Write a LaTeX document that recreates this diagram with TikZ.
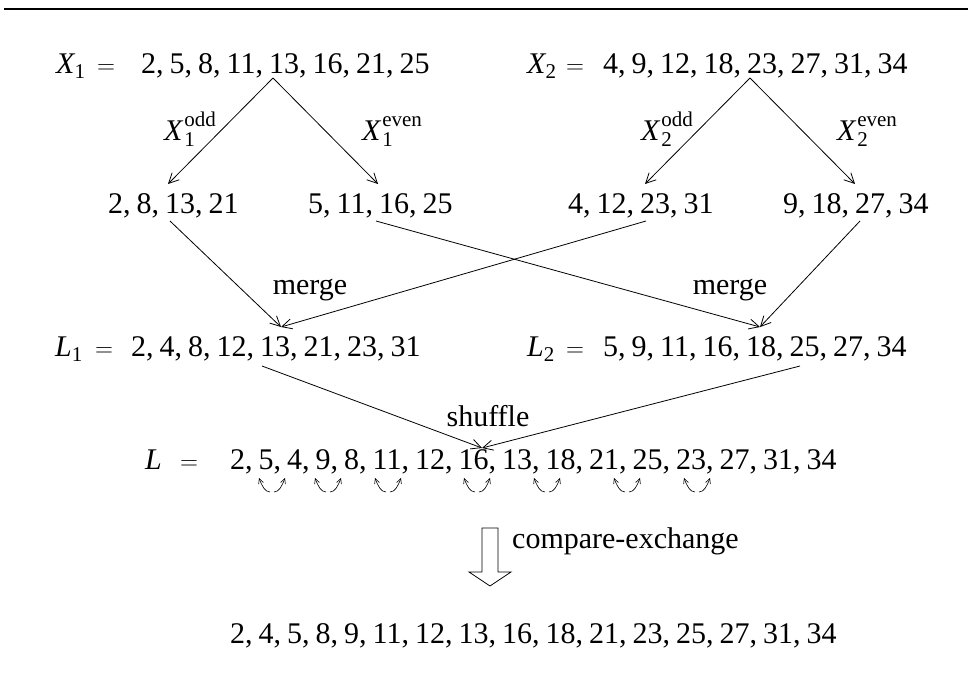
\documentclass[tikz,border=0pt]{standalone}
\usepackage{fontspec}
\usepackage{amsmath}
\setmainfont{Liberation Serif}
\usetikzlibrary{arrows.meta}
\newcommand\listfont{\fontsize{30}{36}\selectfont\spaceskip=0.2em\relax}
\newcommand\supsub[3]{\textit{#1}\hspace{1pt}\makebox[0pt][l]{\raisebox{-6pt}{\fontsize{21}{21}\selectfont #3}}\raisebox{14pt}{\fontsize{21}{21}\selectfont #2}}
\begin{document}
\begin{tikzpicture}[x=1pt,y=-1pt,
  txt/.style={anchor=base west,inner sep=0pt,font=\listfont},
  ctxt/.style={anchor=base,inner sep=0pt,font=\listfont},
  lbl/.style={anchor=base,inner sep=0pt,font=\listfont},
  arr/.style={line width=0.8pt,-{Straight Barb[length=10pt,width=10pt]}},
  swaparr/.style={line width=0.6pt,-{Straight Barb[length=5pt,width=5pt]}},
  hollow/.style={line width=0.8pt},
  rule/.style={line width=2pt}
]
\useasboundingbox (0,0) rectangle (972,673);
\draw[rule] (4,9) -- (968,9);

% row 1
\node[txt] (x1l) at (56,73) {$\textit{X}_{\text{1}}$};
\node[txt] (x1eq) at (97,73) {$=$};
\node[txt] (x1) at (141,73) {2, 5, 8, 11, 13, 16, 21, 25};
\node[txt] (x2l) at (527,73) {$\textit{X}_{\text{2}}$};
\node[txt] (x2eq) at (566,73) {$=$};
\node[txt] (x2) at (603,73) {4, 9, 12, 18, 23, 27, 31, 34};
\coordinate (ap1) at (273,78);
\coordinate (ap2) at (750,78);

% row 2
\node[txt] (a) at (108,213) {2, 8, 13, 21};
\node[txt] (b) at (308,213) {5, 11, 16, 25};
\node[txt] (c) at (568,213) {4, 12, 23, 31};
\node[txt] (d) at (783,213) {9, 18, 27, 34};
\coordinate (ta) at (168,184);
\coordinate (tb) at (378,184);
\coordinate (tc) at (645,184);
\coordinate (td) at (855,184);

\draw[arr] (ap1) -- (ta);
\draw[arr] (ap1) -- (tb);
\draw[arr] (ap2) -- (tc);
\draw[arr] (ap2) -- (td);

\node[lbl] (x1odd) at (190,140) {\supsub{X}{odd}{1}};
\node[lbl] (x1even) at (392,140) {\supsub{X}{even}{1}};
\node[lbl] (x2odd) at (667,140) {\supsub{X}{odd}{2}};
\node[lbl] (x2even) at (867,140) {\supsub{X}{even}{2}};

% merge
\coordinate (sa) at (170,221);
\coordinate (sb) at (376,221);
\coordinate (sc) at (646,221);
\coordinate (sd) at (860,221);
\coordinate (t1) at (281,327);
\coordinate (t2) at (760,327);
\draw[arr] (sa) -- (t1);
\draw[arr] (sc) -- (t1);
\draw[arr] (sb) -- (t2);
\draw[arr] (sd) -- (t2);
\node[ctxt] (m1) at (310,294) {merge};
\node[ctxt] (m2) at (730,294) {merge};

% row 3
\node[txt] (l1l) at (55,356) {$\textit{L}_{\text{1}}$};
\node[txt] (l1eq) at (95,356) {$=$};
\node[txt] (l1) at (131,356) {2, 4, 8, 12, 13, 21, 23, 31};
\node[txt] (l2l) at (527,356) {$\textit{L}_{\text{2}}$};
\node[txt] (l2eq) at (566,356) {$=$};
\node[txt] (l2) at (603,356) {5, 9, 11, 16, 18, 25, 27, 34};

% shuffle
\coordinate (s1) at (262,366);
\coordinate (s2) at (800,366);
\coordinate (t3) at (482,448);
\draw[arr] (s1) -- (t3);
\draw[arr] (s2) -- (t3);
\node[ctxt] (sh) at (488,426) {shuffle};

% row 4
\node[txt] (ll) at (145,469) {$\textit{L}$};
\node[txt] (lleq) at (180,469) {$=$};
\node[txt] (lrow) at (230,469) {2, 5, 4, 9, 8, 11, 12, 16, 13, 18, 21, 25, 23, 27, 31, 34};
\foreach \cx in {272,328,388,477,547,627,697}{
  \draw[swaparr] (\cx-2,492) .. controls (\cx-7,492) and (\cx-10,486) .. (\cx-13,478);
  \draw[swaparr] (\cx+2,492) .. controls (\cx+7,492) and (\cx+10,486) .. (\cx+13,478);
}

% compare-exchange
\draw[hollow] (482,528) -- (498,528) -- (498,572) -- (511,572) -- (490,586) -- (469,572) -- (482,572) -- cycle;
\node[txt] (ce) at (512,548) {compare-exchange};

% row 5
\node[txt] (res) at (230,643) {2, 4, 5, 8, 9, 11, 12, 13, 16, 18, 21, 23, 25, 27, 31, 34};
\end{tikzpicture}
\end{document}
